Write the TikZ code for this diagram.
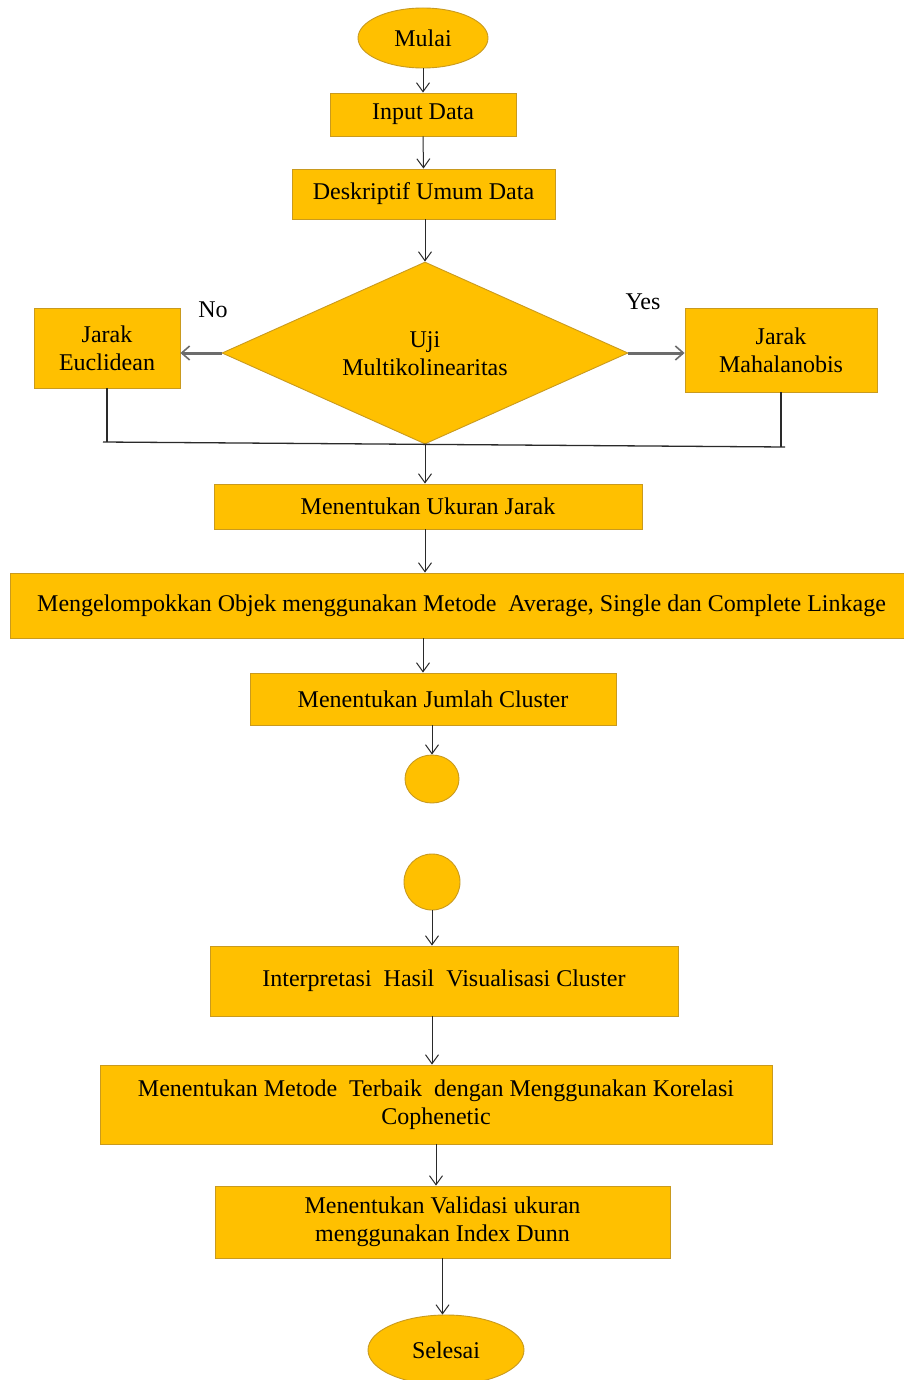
\documentclass[tikz,border=0pt]{standalone}
\usepackage{fontspec}
\setmainfont{Liberation Serif}
\usetikzlibrary{shapes.geometric,arrows.meta,calc}
\definecolor{gold}{HTML}{FFC000}
\definecolor{goldedge}{HTML}{C99A1E}
\definecolor{lnk}{HTML}{2A2A2A}
\begin{document}
\begin{tikzpicture}[x=1pt,y=-1pt,
  every node/.style={font=\fontsize{24}{28}\selectfont},
  box/.style={draw=goldedge,fill=gold,line width=0.9pt,rectangle,inner sep=2pt,align=center},
  oval/.style={draw=goldedge,fill=gold,line width=0.9pt,ellipse,inner sep=0pt},
  dec/.style={draw=goldedge,fill=gold,line width=0.9pt,diamond,inner sep=0pt},
  arr/.style={draw=lnk,line width=1pt,-{Straight Barb[length=9pt,width=13pt]}},
  garr/.style={draw=gray!85!black,line width=3pt,-{Straight Barb[length=8pt,width=14pt,line width=1.6pt]}},
  ln/.style={draw=lnk,line width=1.3pt},
  lbl/.style={inner sep=0pt,align=center}]
\useasboundingbox (0,0) rectangle (903,1380);
\fill[white] (0,0) rectangle (903,1380);

\node[oval,minimum width=130pt,minimum height=60pt] (mulai) at (423,38) {Mulai};
\node[box,minimum width=186pt,minimum height=43pt] (input) at (423,114.5) {Input Data};
\node[box,minimum width=263pt,minimum height=50pt] (desk) at (423.5,194) {Deskriptif Umum Data};
\node[dec,minimum width=406pt,minimum height=182pt] (uji) at (425,353) {};
\node[lbl] (ujitext) at (425,354) {Uji\\Multikolinearitas};
\node[box,minimum width=146pt,minimum height=80pt] (euc) at (107,348) {Jarak\\Euclidean};
\node[box,minimum width=192pt,minimum height=84pt] (mah) at (781,350) {Jarak\\Mahalanobis};
\node[lbl] (no) at (213,310) {No};
\node[lbl] (yes) at (643,302) {Yes};
\node[box,minimum width=428pt,minimum height=45pt] (ukur) at (428,506.5) {Menentukan Ukuran Jarak};
\node[box,minimum width=895pt,minimum height=65pt] (kel) at (457.5,605.5) {\hspace*{8pt}Mengelompokkan Objek menggunakan Metode\ \ Average, Single dan Complete Linkage};
\node[box,minimum width=366pt,minimum height=52pt] (jml) at (433,699) {Menentukan Jumlah Cluster};
\node[oval,minimum width=54pt,minimum height=48pt] (c1) at (432,779) {};
\node[oval,minimum width=56pt,minimum height=56pt] (c2) at (432,882) {};
\node[box,minimum width=468pt,minimum height=70pt] (interp) at (444,981) {Interpretasi\ \ Hasil\ \ Visualisasi Cluster};
\node[box,minimum width=672pt,minimum height=79pt] (met) at (436,1104.5) {Menentukan Metode\ \ Terbaik\ \ dengan Menggunakan Korelasi\\Cophenetic};
\node[box,minimum width=455pt,minimum height=72pt] (val) at (442.5,1222) {Menentukan Validasi ukuran\\menggunakan Index Dunn};
\node[oval,minimum width=156pt,minimum height=70pt] (sel) at (446,1350) {Selesai};

\coordinate (jl) at (103,442);
\coordinate (jr) at (785,447);

\draw[arr] (mulai.south) -- (input.north);
\draw[arr] (input.south) -- (desk.north);
\draw[arr] (desk.south -| uji.north) -- (uji.north);
\draw[garr] (uji.west) -- (euc.east |- uji.west);
\draw[garr] (uji.east) -- (mah.west |- uji.east);
\draw[ln] (euc.south) -- (euc.south |- jl);
\draw[ln] (mah.south) -- (mah.south |- jr);
\draw[ln] (jl) -- (jr);
\draw[arr] (uji.south) -- (uji.south |- ukur.north);
\draw[arr] (ukur.south -| uji.south) -- (kel.north -| uji.south);
\draw[arr] (kel.south -| mulai.south) -- (jml.north -| mulai.south);
\draw[arr] (jml.south -| c1.north) -- (c1.north);
\draw[arr] (c2.south) -- (interp.north -| c2.south);
\draw[arr] (interp.south -| c2.south) -- (met.north -| c2.south);
\draw[arr] (met.south) -- (val.north -| met.south);
\draw[arr] (val.south) -- (sel.north -| val.south);
\end{tikzpicture}
\end{document}
